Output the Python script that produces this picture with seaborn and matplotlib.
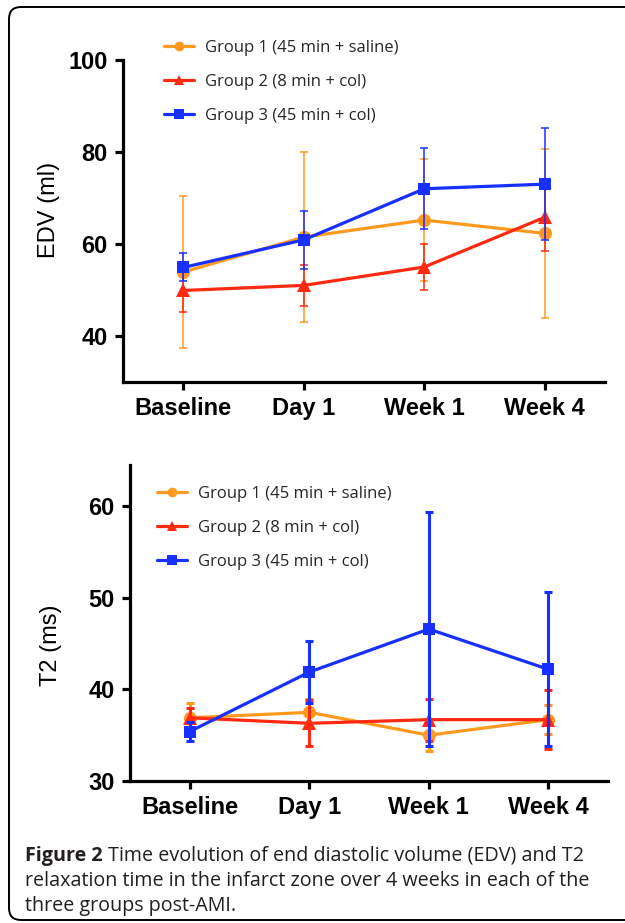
import numpy as np
import matplotlib
matplotlib.use("Agg")
import matplotlib.pyplot as plt
from matplotlib.patches import FancyBboxPatch
from matplotlib.lines import Line2D
import seaborn as sns

# time points and groups
timepoints = ["Baseline", "Day 1", "Week 1", "Week 4"]
groups = ["Group 1 (45 min + saline)", "Group 2 (8 min + col)", "Group 3 (45 min + col)"]

# EDV (ml): mean and SD
edv_g1 = [53.9, 61.5, 65.2, 62.3]
edv_g1_sd = [16.5, 18.5, 13.2, 18.4]
edv_g2 = [49.9, 51.0, 55.0, 65.8]
edv_g2_sd = [4.7, 4.4, 4.9, 7.4]
edv_g3 = [54.9, 60.9, 72.0, 73.0]
edv_g3_sd = [3.05, 6.25, 8.8, 12.1]

# T2 (ms)
t2_g1 = [36.9, 37.5, 35.0, 36.7]
t2_g1_sd = [1.6, 1.5, 1.75, 1.6]
t2_g2 = [36.9, 36.3, 36.7, 36.7]
t2_g2_sd = [1.1, 2.5, 2.3, 3.2]
t2_g3 = [35.4, 41.9, 46.6, 42.2]
t2_g3_sd = [1.0, 3.4, 12.8, 8.4]

edv_ticks = [40, 60, 80, 100]
t2_ticks = [30, 40, 50, 60]

caption_bold = "Figure 2"
caption_lines = ["Time evolution of end diastolic volume (EDV) and T2",
                 "relaxation time in the infarct zone over 4 weeks in each of the",
                 "three groups post-AMI."]

colors = ["#FF9A1E", "#FF2A10", "#1830FF"]
markers = ["o", "^", "s"]
msizes = [9.5, 10, 9]

sns.set_theme(style="ticks")
plt.rcParams["font.family"] = ["Liberation Sans", "DejaVu Sans"]

fig = plt.figure(figsize=(6.25, 9.23), dpi=100)
ax1 = fig.add_axes([0.197, 0.5861, 0.771, 0.349])
ax2 = fig.add_axes([0.208, 0.1539, 0.765, 0.342])

x = np.arange(len(timepoints))


def draw_panel(ax, series, sds, err_lw, err_cap, ylim, ticks, ylabel, label_xy):
    # draw blue first, orange last (orange sits on top)
    for i in [2, 1, 0]:
        sns.lineplot(x=x, y=series[i], ax=ax, color=colors[i], linewidth=2.3,
                     marker=markers[i], markersize=msizes[i],
                     markeredgecolor=colors[i], markeredgewidth=0, zorder=3 + i)
        ax.errorbar(x, series[i], yerr=sds[i], fmt="none", ecolor=colors[i],
                    elinewidth=err_lw, capsize=err_cap, capthick=err_lw,
                    zorder=3 + i)
    ax.set_xlim(-0.5, 3.5)
    ax.set_ylim(*ylim)
    ax.set_xticks(x)
    ax.set_xticklabels(timepoints)
    ax.set_yticks(ticks)
    sns.despine(ax=ax)
    for s in ["left", "bottom"]:
        ax.spines[s].set_linewidth(2.3)
        ax.spines[s].set_color("black")
    ax.tick_params(direction="out", length=6, width=2.3, color="black", pad=5)
    for lab in ax.get_xticklabels() + ax.get_yticklabels():
        lab.set_fontsize(17)
        lab.set_fontweight("bold")
        lab.set_color("black")
    ax.set_xlabel("")
    ax.set_ylabel(ylabel, fontsize=17, color="black")
    ax.yaxis.set_label_coords(*label_xy)
    ax.set_facecolor("white")


draw_panel(ax1, [edv_g1, edv_g2, edv_g3], [edv_g1_sd, edv_g2_sd, edv_g3_sd],
           1.1, 3, (30, 100), edv_ticks, "EDV (ml)", (-0.131, 0.534))
draw_panel(ax2, [t2_g1, t2_g2, t2_g3], [t2_g1_sd, t2_g2_sd, t2_g3_sd],
           2.2, 3, (30, 64.5), t2_ticks, "T2 (ms)", (-0.142, 0.43))

handles = [Line2D([], [], color=colors[i], marker=markers[i], markersize=7,
                  linewidth=2.3, markeredgewidth=0) for i in range(3)]
for anchor in [(0.262, 0.9567), (0.251, 0.4735)]:
    fig.legend(handles, groups, loc="upper left", bbox_to_anchor=anchor,
               frameon=False, borderpad=0, borderaxespad=0,
               handlelength=1.8, handletextpad=0.65, labelspacing=1.08,
               prop={"family": "Open Sans", "size": 12})

# rounded frame around the figure
frame = FancyBboxPatch((9, 3), 660, 913, boxstyle="round,pad=0,rounding_size=12",
                       transform=None, fill=False, edgecolor="black", linewidth=1.4)
fig.patches.append(frame)

# caption
fig.canvas.draw()
renderer = fig.canvas.get_renderer()
W = fig.bbox.width
cap_kw = dict(family="Open Sans", size=14.2, color="#231F20", va="baseline")
left_px = 25
base = [861, 886, 911]
t = fig.text(left_px / W, 1 - base[0] / 923, caption_bold, weight="bold", **cap_kw)
start = t.get_window_extent(renderer).x1
fig.text(start / W, 1 - base[0] / 923, " " + caption_lines[0], **cap_kw)
for line, b in zip(caption_lines[1:], base[1:]):
    fig.text(left_px / W, 1 - b / 923, line, **cap_kw)

fig.savefig("out.png", dpi=100, facecolor="white")
